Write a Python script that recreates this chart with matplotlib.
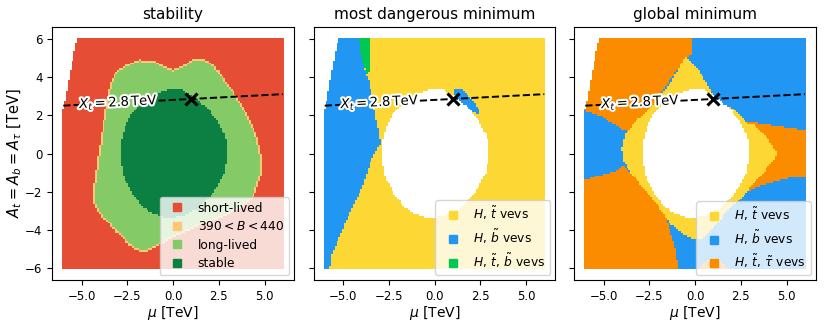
"""Stability / most dangerous minimum / global minimum maps in the (mu, A) plane."""
import numpy as np
import matplotlib
matplotlib.use("Agg")
import matplotlib.pyplot as plt
import matplotlib.patheffects as pe
from matplotlib.colors import ListedColormap
from matplotlib.lines import Line2D
from matplotlib.path import Path

# scan grid (TeV)
MU = np.round(np.arange(-6.0, 6.001, 0.1), 2)
AT = np.round(np.arange(-6.0, 6.001, 0.1), 2)

# upper-left corner that was not scanned: left edge of the scan vs A
CUT_A = [2.3, 3.0, 4.0, 5.0, 6.0]
CUT_MU = [-6.0, -5.85, -5.67, -5.47, -5.25]

# region boundaries, (mu, A) in TeV
STABLE = [(-0.4, 3.3), (0.4, 3.35), (1.0, 3.05), (1.8, 2.45), (2.5, 1.6), (2.9, 0.8),
          (2.95, -0.2), (2.85, -0.9), (2.55, -1.5), (2.0, -2.3), (1.4, -2.85), (0.6, -3.25),
          (-0.4, -3.35), (-1.2, -3.1), (-1.7, -2.75), (-2.3, -2.0), (-2.7, -1.2), (-2.87, -0.3),
          (-2.85, 0.6), (-2.6, 1.5), (-2.2, 2.2), (-1.6, 2.75), (-1.0, 3.1)]
LONG_LIVED = [(-2.2, 4.8), (-1.8, 4.9), (-1.1, 4.88), (-0.5, 4.55), (0.0, 4.37), (0.5, 4.55),
              (1.0, 4.9), (1.5, 4.97), (2.0, 4.8), (2.6, 4.2), (3.1, 3.5), (3.6, 2.8), (3.95, 2.2),
              (4.3, 1.6), (4.6, 0.9), (4.8, 0.0), (4.85, -0.6), (4.8, -1.2), (4.6, -1.8), (4.4, -2.3),
              (3.9, -2.7), (3.4, -3.0), (2.5, -3.4), (1.6, -3.7), (0.7, -4.1), (-0.2, -4.45),
              (-0.9, -4.9), (-1.6, -5.18), (-2.2, -5.0), (-2.9, -4.3), (-3.5, -3.7), (-4.0, -3.2),
              (-4.35, -2.6), (-4.3, -1.5), (-4.15, -0.5), (-4.0, 0.5), (-3.85, 1.5), (-3.65, 2.6),
              (-3.45, 3.6), (-3.2, 4.15), (-2.8, 4.5)]

# most dangerous minimum (background: H, stop)
MD_SBOT_LEFT = [(-6.3, 6.3), (-4.18, 6.3), (-3.97, 5.0), (-3.78, 4.22), (-3.57, 3.79), (-3.39, 2.74),
                (-3.19, 1.7), (-3.03, 1.0), (-2.97, 0.48), (-3.24, 0.13), (-3.6, -0.74),
                (-3.96, -1.79), (-4.51, -2.83), (-5.14, -4.22), (-5.6, -5.27), (-5.78, -6.3), (-6.3, -6.3)]
MD_STOP_SBOT = [(-4.18, 6.3), (-3.55, 6.3), (-3.58, 4.3), (-3.72, 4.15), (-3.97, 5.0)]
MD_SBOT_PATCH = [(1.05, 3.35), (1.55, 3.35), (2.0, 2.85), (2.5, 2.25), (2.5, 2.0), (1.2, 2.6)]

# global minimum (background: H, sbottom)
GM_STAU_TL = [(-6.3, 6.3), (-0.12, 6.3), (-0.19, 5.18), (-0.51, 5.04), (-1.41, 3.79), (-2.13, 2.74),
              (-2.85, 1.87), (-3.48, 1.09), (-3.93, 1.26), (-5.01, 1.87), (-6.3, 2.31)]
GM_STAU_BL = [(-6.3, -1.44), (-5.37, -1.18), (-4.47, -0.95), (-3.93, -0.65), (-3.21, -1.26),
              (-2.49, -2.05), (-1.77, -2.92), (-1.41, -3.88), (-1.14, -4.75), (-0.87, -6.3), (-6.3, -6.3)]
GM_STAU_R = [(2.81, 1.66), (3.8, 1.56), (4.88, 1.39), (6.3, 1.21), (6.3, -1.18), (5.24, -1.26),
             (4.16, -1.52), (3.26, -1.79), (2.81, -2.05)]
GM_STAU_B = [(0.21, -6.3), (0.3, -5.8), (0.57, -5.62), (1.11, -5.45), (1.65, -5.81), (1.83, -6.3)]
GM_STOP = [(-0.51, 5.1), (0.03, 4.57), (0.57, 3.79), (0.84, 3.27), (1.11, 2.74), (2.0, 2.4),
           (2.81, 1.61), (3.26, 1.49), (3.8, 1.0), (4.52, -0.04), (3.8, -0.91), (3.08, -1.7),
           (2.54, -2.31), (1.83, -2.92), (1.11, -3.79), (0.39, -4.49), (-0.15, -4.49),
           (-0.87, -4.05), (-1.41, -3.62), (-1.95, -2.83), (-2.67, -1.96), (-3.39, -1.18),
           (-3.93, -0.39), (-4.02, 0.3), (-3.84, 1.0), (-3.39, 1.52), (-2.67, 2.22),
           (-1.95, 2.92), (-1.23, 3.88)]

# X_t = 2.8 TeV line and benchmark point
XT_MU = [-6.0, 6.0]
XT_A = [2.5, 3.1]
XT_GAP = (-5.1, -0.8)
BENCH = (1.0, 2.85)

STAB_COLORS = plt.cm.RdYlGn([0.15, 0.35, 0.75, 0.95])
STAB_LABELS = ["short-lived", r"$390 < B < 440$", "long-lived", "stable"]
MD_COLORS = ["#fdd835", "#2196f3", "#00c853"]
MD_LABELS = [r"$H,\,\tilde{t}$ vevs", r"$H,\,\tilde{b}$ vevs", r"$H,\,\tilde{t},\,\tilde{b}$ vevs"]
GM_COLORS = ["#fdd835", "#2196f3", "#fb8c00"]
GM_LABELS = [r"$H,\,\tilde{t}$ vevs", r"$H,\,\tilde{b}$ vevs", r"$H,\,\tilde{t},\,\tilde{\tau}$ vevs"]

M, AA = np.meshgrid(MU, AT)
PTS = np.column_stack([M.ravel(), AA.ravel()])
unscanned = M < np.interp(AA, CUT_A, CUT_MU) - 1e-9


def inside(poly):
    return Path(poly).contains_points(PTS).reshape(M.shape)


# stability
stab = np.zeros(M.shape)
stab[inside(LONG_LIVED)] = 2
red = stab == 0
nb = np.zeros_like(red)
nb[1:, :] |= red[:-1, :]
nb[:-1, :] |= red[1:, :]
nb[:, 1:] |= red[:, :-1]
nb[:, :-1] |= red[:, 1:]
stab[(stab == 2) & nb] = 1
is_stable = inside(STABLE)
stab[is_stable] = 3
stab[unscanned] = np.nan

md = np.zeros(M.shape)
md[inside(MD_SBOT_LEFT)] = 1
md[inside(MD_STOP_SBOT)] = 2
md[inside(MD_SBOT_PATCH)] = 1
md[is_stable | unscanned] = np.nan

gm = np.ones(M.shape)
for poly in (GM_STAU_TL, GM_STAU_BL, GM_STAU_R, GM_STAU_B):
    gm[inside(poly)] = 2
gm[inside(GM_STOP)] = 0
gm[is_stable | unscanned] = np.nan

fig = plt.figure(figsize=(8.3, 3.27), dpi=100)
lefts = [0.063, 0.378, 0.692]
axes = [fig.add_axes([l, 0.144, 0.291, 0.773]) for l in lefts]

edges = np.append(MU - 0.05, MU[-1] + 0.05)
panels = [("stability", stab, STAB_COLORS, STAB_LABELS),
          ("most dangerous minimum", md, MD_COLORS, MD_LABELS),
          ("global minimum", gm, GM_COLORS, GM_LABELS)]

for ax, (title, grid, colors, labels) in zip(axes, panels):
    ax.pcolormesh(edges, edges, np.ma.masked_invalid(grid), cmap=ListedColormap(colors),
                  vmin=-0.5, vmax=len(colors) - 0.5, shading="flat")
    # X_t contour, broken where the label sits
    for lo, hi in ((XT_MU[0], XT_GAP[0]), (XT_GAP[1], XT_MU[1])):
        ax.plot([lo, hi], np.interp([lo, hi], XT_MU, XT_A), "--", color="k", lw=1.4, zorder=3)
    xc = 0.5 * (XT_GAP[0] + XT_GAP[1])
    ax.text(xc, np.interp(xc, XT_MU, XT_A), r"$X_t = 2.8\,\mathrm{TeV}$", rotation=3,
            ha="center", va="center", fontsize=9.5, zorder=4,
            path_effects=[pe.withStroke(linewidth=3, foreground="white")])
    ax.plot(*BENCH, "x", color="k", ms=8.5, mew=2.2, zorder=5)

    handles = [Line2D([], [], marker="s", ls="", color=c, ms=5.5, label=lab)
               for c, lab in zip(colors, labels)]
    ax.legend(handles=handles, loc="lower right", fontsize=8.8, handletextpad=0.7,
              borderaxespad=0.4, labelspacing=0.45)
    ax.set_xlim(-6.6, 6.6)
    ax.set_ylim(-6.6, 6.6)
    ax.set_xticks([-5, -2.5, 0, 2.5, 5])
    ax.set_yticks([-6, -4, -2, 0, 2, 4, 6])
    ax.tick_params(labelsize=8.5)
    ax.set_xlabel(r"$\mu$ [TeV]", fontsize=10, labelpad=1)
    ax.set_title(title, fontsize=11)

axes[0].set_ylabel(r"$A_t = A_b = A_\tau$ [TeV]", fontsize=10.5, labelpad=1)
for ax in axes[1:]:
    ax.tick_params(labelleft=False)

fig.savefig("out.png", dpi=100)
